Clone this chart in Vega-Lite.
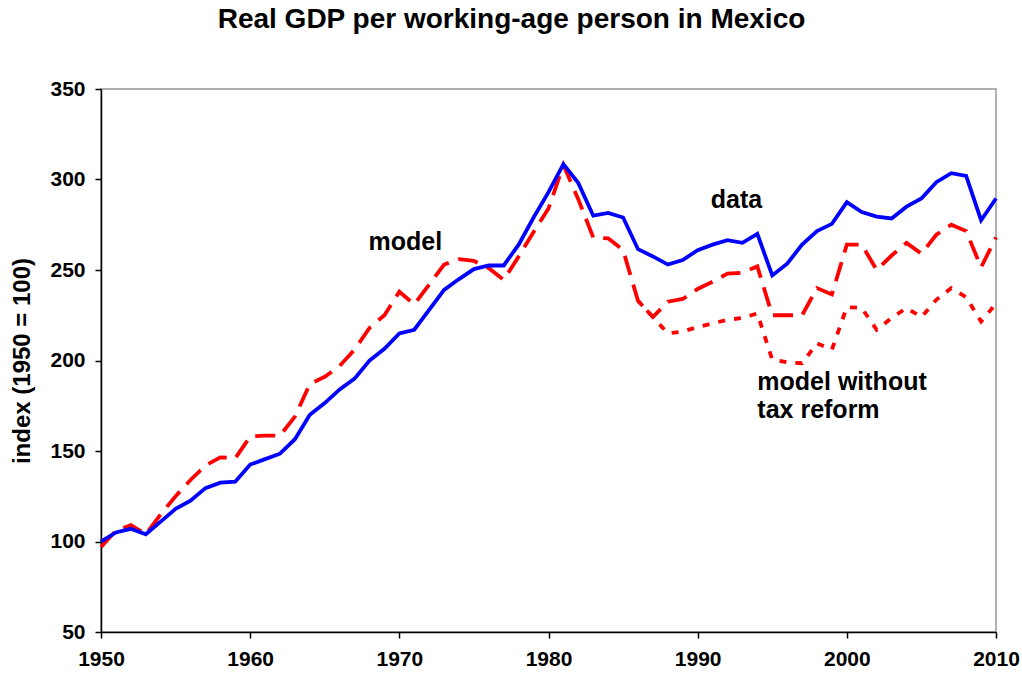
{
  "$schema": "https://vega.github.io/schema/vega-lite/v6.json",
  "width": 895,
  "height": 543,
  "autosize": "none",
  "padding": {"left": 101, "top": 89, "right": 26, "bottom": 45},
  "background": "white",
  "config": {
    "font": "Liberation Sans",
    "view": {"stroke": "#b0b0b0", "strokeWidth": 2},
    "axis": {
      "labelFont": "Liberation Sans",
      "labelFontWeight": "bold",
      "labelFontSize": 21,
      "labelColor": "black",
      "labelFlush": false,
      "titleFont": "Liberation Sans",
      "titleFontWeight": "bold",
      "titleFontSize": 24,
      "titleColor": "black",
      "domainColor": "black",
      "domainWidth": 1.5,
      "tickColor": "black",
      "tickWidth": 1.5,
      "tickSize": 6,
      "grid": false
    }
  },
  "title": {
    "text": "Real GDP per working-age person in Mexico",
    "font": "Liberation Sans",
    "fontWeight": "bold",
    "fontSize": 28,
    "color": "black",
    "anchor": "middle",
    "dx": -37,
    "offset": 44
  },
  "datasets": {
    "series": [
      {"year": 1950, "series": "data", "value": 100},
      {"year": 1951, "series": "data", "value": 105},
      {"year": 1952, "series": "data", "value": 107},
      {"year": 1953, "series": "data", "value": 104},
      {"year": 1954, "series": "data", "value": 111},
      {"year": 1955, "series": "data", "value": 118},
      {"year": 1956, "series": "data", "value": 122.5},
      {"year": 1957, "series": "data", "value": 129.5},
      {"year": 1958, "series": "data", "value": 132.5},
      {"year": 1959, "series": "data", "value": 133},
      {"year": 1960, "series": "data", "value": 142.5},
      {"year": 1961, "series": "data", "value": 145.5},
      {"year": 1962, "series": "data", "value": 148.5},
      {"year": 1963, "series": "data", "value": 156.5},
      {"year": 1964, "series": "data", "value": 170},
      {"year": 1965, "series": "data", "value": 176.5},
      {"year": 1966, "series": "data", "value": 184},
      {"year": 1967, "series": "data", "value": 190},
      {"year": 1968, "series": "data", "value": 200},
      {"year": 1969, "series": "data", "value": 206.5},
      {"year": 1970, "series": "data", "value": 215},
      {"year": 1971, "series": "data", "value": 217},
      {"year": 1972, "series": "data", "value": 228},
      {"year": 1973, "series": "data", "value": 239},
      {"year": 1974, "series": "data", "value": 245},
      {"year": 1975, "series": "data", "value": 250.5},
      {"year": 1976, "series": "data", "value": 252.5},
      {"year": 1977, "series": "data", "value": 252.5},
      {"year": 1978, "series": "data", "value": 264},
      {"year": 1979, "series": "data", "value": 279},
      {"year": 1980, "series": "data", "value": 293},
      {"year": 1981, "series": "data", "value": 308.5},
      {"year": 1982, "series": "data", "value": 298},
      {"year": 1983, "series": "data", "value": 280},
      {"year": 1984, "series": "data", "value": 281.5},
      {"year": 1985, "series": "data", "value": 279},
      {"year": 1986, "series": "data", "value": 261.5},
      {"year": 1987, "series": "data", "value": 257.5},
      {"year": 1988, "series": "data", "value": 253},
      {"year": 1989, "series": "data", "value": 255.5},
      {"year": 1990, "series": "data", "value": 261},
      {"year": 1991, "series": "data", "value": 264},
      {"year": 1992, "series": "data", "value": 266.5},
      {"year": 1993, "series": "data", "value": 265},
      {"year": 1994, "series": "data", "value": 270},
      {"year": 1995, "series": "data", "value": 247},
      {"year": 1996, "series": "data", "value": 253.5},
      {"year": 1997, "series": "data", "value": 264},
      {"year": 1998, "series": "data", "value": 271.5},
      {"year": 1999, "series": "data", "value": 275.5},
      {"year": 2000, "series": "data", "value": 287.5},
      {"year": 2001, "series": "data", "value": 282},
      {"year": 2002, "series": "data", "value": 279.5},
      {"year": 2003, "series": "data", "value": 278.5},
      {"year": 2004, "series": "data", "value": 285},
      {"year": 2005, "series": "data", "value": 289.5},
      {"year": 2006, "series": "data", "value": 298.5},
      {"year": 2007, "series": "data", "value": 303.5},
      {"year": 2008, "series": "data", "value": 302},
      {"year": 2009, "series": "data", "value": 277.5},
      {"year": 2010, "series": "data", "value": 289.5},
      {"year": 1950, "series": "model", "value": 97},
      {"year": 1951, "series": "model", "value": 106},
      {"year": 1952, "series": "model", "value": 109},
      {"year": 1953, "series": "model", "value": 104},
      {"year": 1954, "series": "model", "value": 115},
      {"year": 1955, "series": "model", "value": 125},
      {"year": 1956, "series": "model", "value": 134},
      {"year": 1957, "series": "model", "value": 142},
      {"year": 1958, "series": "model", "value": 146.5},
      {"year": 1959, "series": "model", "value": 146},
      {"year": 1960, "series": "model", "value": 158},
      {"year": 1961, "series": "model", "value": 158.5},
      {"year": 1962, "series": "model", "value": 158.5},
      {"year": 1963, "series": "model", "value": 169},
      {"year": 1964, "series": "model", "value": 187},
      {"year": 1965, "series": "model", "value": 191},
      {"year": 1966, "series": "model", "value": 197},
      {"year": 1967, "series": "model", "value": 206},
      {"year": 1968, "series": "model", "value": 218},
      {"year": 1969, "series": "model", "value": 225},
      {"year": 1970, "series": "model", "value": 238},
      {"year": 1971, "series": "model", "value": 231},
      {"year": 1972, "series": "model", "value": 242},
      {"year": 1973, "series": "model", "value": 253},
      {"year": 1974, "series": "model", "value": 256},
      {"year": 1975, "series": "model", "value": 255},
      {"year": 1976, "series": "model", "value": 251},
      {"year": 1977, "series": "model", "value": 244.5},
      {"year": 1978, "series": "model", "value": 257.5},
      {"year": 1979, "series": "model", "value": 271},
      {"year": 1980, "series": "model", "value": 284},
      {"year": 1981, "series": "model", "value": 308},
      {"year": 1982, "series": "model", "value": 289},
      {"year": 1983, "series": "model", "value": 268},
      {"year": 1984, "series": "model", "value": 267.5},
      {"year": 1985, "series": "model", "value": 261},
      {"year": 1986, "series": "model", "value": 233},
      {"year": 1987, "series": "model", "value": 224},
      {"year": 1988, "series": "model", "value": 232.5},
      {"year": 1989, "series": "model", "value": 234},
      {"year": 1990, "series": "model", "value": 239.5},
      {"year": 1991, "series": "model", "value": 243.5},
      {"year": 1992, "series": "model", "value": 248},
      {"year": 1993, "series": "model", "value": 248.5},
      {"year": 1994, "series": "model", "value": 252},
      {"year": 1995, "series": "model", "value": 225},
      {"year": 1996, "series": "model", "value": 225},
      {"year": 1997, "series": "model", "value": 225},
      {"year": 1998, "series": "model", "value": 240},
      {"year": 1999, "series": "model", "value": 236.5},
      {"year": 2000, "series": "model", "value": 264},
      {"year": 2001, "series": "model", "value": 264},
      {"year": 2002, "series": "model", "value": 250},
      {"year": 2003, "series": "model", "value": 258},
      {"year": 2004, "series": "model", "value": 265},
      {"year": 2005, "series": "model", "value": 259},
      {"year": 2006, "series": "model", "value": 269.5},
      {"year": 2007, "series": "model", "value": 275},
      {"year": 2008, "series": "model", "value": 271.5},
      {"year": 2009, "series": "model", "value": 251.5},
      {"year": 2010, "series": "model", "value": 268},
      {"year": 1986, "series": "notax", "value": 233},
      {"year": 1987, "series": "notax", "value": 224},
      {"year": 1988, "series": "notax", "value": 215},
      {"year": 1989, "series": "notax", "value": 216},
      {"year": 1990, "series": "notax", "value": 218.5},
      {"year": 1991, "series": "notax", "value": 220.5},
      {"year": 1992, "series": "notax", "value": 222.5},
      {"year": 1993, "series": "notax", "value": 223.5},
      {"year": 1994, "series": "notax", "value": 226},
      {"year": 1995, "series": "notax", "value": 200.5},
      {"year": 1996, "series": "notax", "value": 199},
      {"year": 1997, "series": "notax", "value": 198.5},
      {"year": 1998, "series": "notax", "value": 209.5},
      {"year": 1999, "series": "notax", "value": 206},
      {"year": 2000, "series": "notax", "value": 229.5},
      {"year": 2001, "series": "notax", "value": 229},
      {"year": 2002, "series": "notax", "value": 217},
      {"year": 2003, "series": "notax", "value": 223.5},
      {"year": 2004, "series": "notax", "value": 229},
      {"year": 2005, "series": "notax", "value": 224},
      {"year": 2006, "series": "notax", "value": 233.5},
      {"year": 2007, "series": "notax", "value": 240},
      {"year": 2008, "series": "notax", "value": 235},
      {"year": 2009, "series": "notax", "value": 221.5},
      {"year": 2010, "series": "notax", "value": 231.5}
    ],
    "labels": [
      {"year": 1970.4, "value": 261, "label": "model", "align": "center"},
      {"year": 1992.6, "value": 284.5, "label": "data", "align": "center"},
      {"year": 1994.0, "value": 183.5, "label": "model without\ntax reform", "align": "left"}
    ]
  },
  "layer": [
    {
      "data": {"name": "series"},
      "transform": [{"filter": "datum.series === 'notax'"}],
      "mark": {"type": "line", "color": "#ff0000", "strokeWidth": 3.8, "strokeDash": [7, 9], "strokeCap": "butt"},
      "encoding": {
        "x": {"field": "year", "type": "quantitative", "scale": {"domain": [1950, 2010], "nice": false, "zero": false},
              "axis": {"values": [1950, 1960, 1970, 1980, 1990, 2000, 2010], "format": "d", "title": null, "labelPadding": 10}},
        "y": {"field": "value", "type": "quantitative", "scale": {"domain": [50, 350], "nice": false, "zero": false},
              "axis": {"values": [50, 100, 150, 200, 250, 300, 350], "title": "index (1950 = 100)", "labelPadding": 10, "titlePadding": 15}}
      }
    },
    {
      "data": {"name": "series"},
      "transform": [{"filter": "datum.series === 'model'"}],
      "mark": {"type": "line", "color": "#ff0000", "strokeWidth": 3.8, "strokeDash": [20, 10], "strokeCap": "butt"},
      "encoding": {
        "x": {"field": "year", "type": "quantitative"},
        "y": {"field": "value", "type": "quantitative"}
      }
    },
    {
      "data": {"name": "series"},
      "transform": [{"filter": "datum.series === 'data'"}],
      "mark": {"type": "line", "color": "#0000ff", "strokeWidth": 3.8},
      "encoding": {
        "x": {"field": "year", "type": "quantitative"},
        "y": {"field": "value", "type": "quantitative"}
      }
    },
    {
      "data": {"name": "labels"},
      "transform": [{"filter": "datum.align === 'center'"}],
      "mark": {"type": "text", "font": "Liberation Sans", "fontWeight": "bold", "fontSize": 25, "color": "black", "align": "center", "baseline": "alphabetic"},
      "encoding": {
        "x": {"field": "year", "type": "quantitative"},
        "y": {"field": "value", "type": "quantitative"},
        "text": {"field": "label"}
      }
    },
    {
      "data": {"name": "labels"},
      "transform": [{"filter": "datum.align === 'left'"}],
      "mark": {"type": "text", "font": "Liberation Sans", "fontWeight": "bold", "fontSize": 25, "color": "black", "align": "left", "baseline": "alphabetic", "lineBreak": "\n", "lineHeight": 28},
      "encoding": {
        "x": {"field": "year", "type": "quantitative"},
        "y": {"field": "value", "type": "quantitative"},
        "text": {"field": "label"}
      }
    }
  ]
}
